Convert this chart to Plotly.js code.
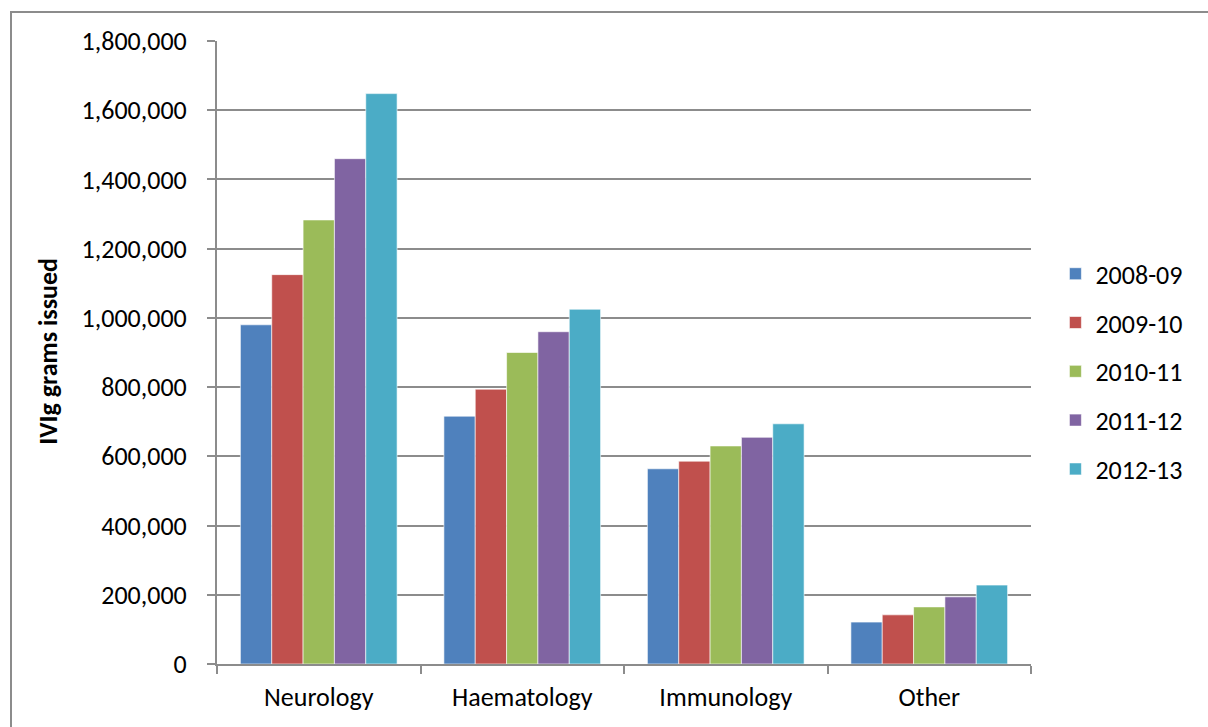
<!DOCTYPE html>
<html>
<head>
<meta charset="utf-8">
<script src="https://cdn.plot.ly/plotly-3.0.1.min.js"></script>
<style>
  html, body { margin: 0; padding: 0; background: #fff; }
  #wrap { position: relative; width: 1208px; height: 727px; overflow: hidden; }
  #chart { width: 1208px; height: 727px; }
  #frame { position: absolute; left: 10px; top: 11px; width: 1300px; height: 800px;
           border-left: 2px solid #8c8c8c; border-top: 2px solid #8c8c8c; pointer-events: none; }
</style>
</head>
<body>
<div id="wrap">
  <div id="chart"></div>
  <div id="frame"></div>
</div>
<script>
const categories = ["Neurology", "Haematology", "Immunology", "Other"];
const seriesNames = ["2008-09", "2009-10", "2010-11", "2011-12", "2012-13"];
const v2008_09 = [980000, 716000, 564000, 121000];
const v2009_10 = [1125000, 794000, 586000, 142000];
const v2010_11 = [1283000, 900000, 630000, 165000];
const v2011_12 = [1460000, 960000, 655000, 194000];
const v2012_13 = [1648000, 1025000, 694000, 228000];
const yTickVals = [0, 200000, 400000, 600000, 800000, 1000000, 1200000, 1400000, 1600000, 1800000];
const yTickText = ["0", "200,000", "400,000", "600,000", "800,000", "1,000,000", "1,200,000", "1,400,000", "1,600,000", "1,800,000"];
const yTitle = "IVIg grams issued";

const colors = ["#4F81BD", "#C0504D", "#9BBB59", "#8064A2", "#4BACC6"];
const seriesValues = [v2008_09, v2009_10, v2010_11, v2011_12, v2012_13];
const FONT = "Carlito, Lato, 'Liberation Sans', sans-serif";

const traces = seriesNames.map((name, i) => ({
  type: "bar",
  name: name,
  x: categories,
  y: seriesValues[i],
  legendgroup: "g" + i,
  marker: { color: colors[i], line: { color: "rgba(255,255,255,0.6)", width: 1 } },
  hoverinfo: "x+y+name"
}));

const layout = {
  width: 1208,
  height: 727,
  margin: { l: 217, r: 177, t: 41, b: 63, autoexpand: false },
  paper_bgcolor: "#ffffff",
  plot_bgcolor: "#ffffff",
  font: { family: FONT, size: 26, color: "#000000" },
  barmode: "group",
  bargap: 0.23,
  bargroupgap: 0,
  showlegend: true,
  legend: {
    x: 1.03, xanchor: "left",
    y: 0.469, yanchor: "middle",
    font: { family: FONT, size: 26, color: "#000" },
    traceorder: "grouped",
    tracegroupgap: 12,
    bgcolor: "rgba(0,0,0,0)"
  },
  xaxis: {
    type: "category",
    showline: true,
    linecolor: "#8c8c8c",
    linewidth: 2,
    ticks: "outside",
    tickson: "boundaries",
    ticklen: 8,
    tickwidth: 2,
    tickcolor: "#8c8c8c",
    ticklabelstandoff: 9,
    showgrid: false,
    zeroline: false,
    tickfont: { family: FONT, size: 26, color: "#000" }
  },
  yaxis: {
    range: [0, 1800000],
    tickvals: yTickVals,
    ticktext: yTickText,
    showline: true,
    linecolor: "#8c8c8c",
    linewidth: 2,
    ticks: "outside",
    ticklen: 8,
    tickwidth: 2,
    tickcolor: "#8c8c8c",
    ticklabelstandoff: 15,
    showgrid: true,
    gridcolor: "#8c8c8c",
    gridwidth: 2,
    zeroline: false,
    tickfont: { family: FONT, size: 26, color: "#000" }
  },
  annotations: [{
    text: "<b>" + yTitle + "</b>",
    xref: "paper", yref: "paper",
    x: (48 - 217) / 814, y: (664.5 - 352) / 623.5,
    xanchor: "center", yanchor: "middle",
    textangle: -90,
    showarrow: false,
    font: { family: FONT, size: 26, color: "#000" }
  }]
};

Plotly.newPlot("chart", traces, layout, { displayModeBar: false, staticPlot: true });
</script>
</body>
</html>
